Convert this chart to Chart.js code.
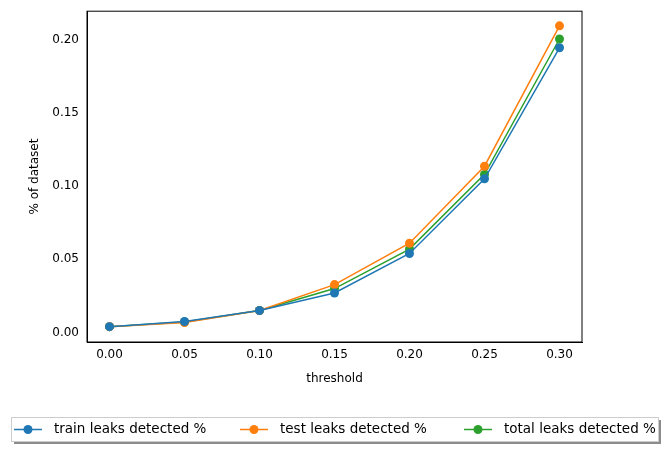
<!DOCTYPE html>
<html><head><meta charset="utf-8">
<script src="https://cdn.jsdelivr.net/npm/chart.js@4"></script>
<style>html,body{margin:0;padding:0;background:#fff}#w{width:667px;height:451px}</style>
</head><body><div id="w"><canvas id="c"></canvas></div>
<script>
const thresholds = [0.00, 0.05, 0.10, 0.15, 0.20, 0.25, 0.30];
const trainLeaks = [0.004, 0.0075, 0.015, 0.027, 0.054, 0.105, 0.1945];
const testLeaks  = [0.004, 0.0068, 0.015, 0.0327, 0.061, 0.1136, 0.2095];
const totalLeaks = [0.004, 0.0072, 0.015, 0.030, 0.057, 0.108, 0.2005];
const seriesLabels = ['train leaks detected %', 'test leaks detected %', 'total leaks detected %'];
const colors = ['#1f77b4', '#ff7f0e', '#2ca02c'];
const font = {family: 'DejaVu Sans', size: 12};

function ds(i, vals){
  return {label: seriesLabels[i], data: thresholds.map((x,k)=>({x, y: vals[k]})),
    borderColor: colors[i], backgroundColor: colors[i], borderWidth: 1.5,
    pointRadius: 4.5, pointHoverRadius: 4.5, pointBorderWidth: 0, tension: 0};
}
const legendPlugin = {
  id: 'mplLegend',
  afterDraw(chart){
    const ctx = chart.ctx;
    const x0 = 11, y0 = 417, w = 647, h = 24;
    ctx.save();
    ctx.fillStyle = 'rgba(0,0,0,0.45)';
    ctx.fillRect(x0+3, y0+3, w, h);
    ctx.fillStyle = '#fff';
    ctx.strokeStyle = '#ccc';
    ctx.lineWidth = 1;
    ctx.fillRect(x0, y0, w, h);
    ctx.strokeRect(x0+0.5, y0+0.5, w, h);
    ctx.font = '13.5px "DejaVu Sans"';
    ctx.textBaseline = 'middle';
    const starts = [14, 240, 464];
    chart.data.datasets.forEach((d, i) => {
      const sx = starts[i], cy = y0 + h/2 + 0.5;
      ctx.strokeStyle = d.borderColor; ctx.lineWidth = 1.5;
      ctx.beginPath(); ctx.moveTo(sx, cy); ctx.lineTo(sx+28, cy); ctx.stroke();
      ctx.fillStyle = d.borderColor;
      ctx.beginPath(); ctx.arc(sx+14, cy, 4.5, 0, Math.PI*2); ctx.fill();
      ctx.fillStyle = '#000';
      ctx.fillText(d.label, sx+40, cy);
    });
    ctx.restore();
  }
};
new Chart(document.getElementById('c'), {
  type: 'line',
  data: {datasets: [ds(0, trainLeaks), ds(1, testLeaks), ds(2, totalLeaks)]},
  options: {
    responsive: true, maintainAspectRatio: false, animation: false,
    layout: {padding: {left: 24, right: 85, top: 10, bottom: 61}},
    plugins: {legend: {display: false}, tooltip: {enabled: false}},
    scales: {
      x: {type: 'linear', min: -0.015, max: 0.315,
        afterFit(s){ s.height = 48; },
        afterBuildTicks(s){ s.ticks = thresholds.map(v=>({value:v})); },
        ticks: {font, color: '#000', callback: v => v.toFixed(2), maxRotation: 0, padding: 2},
        grid: {display: false, drawTicks: true, tickLength: 4, tickColor: '#000'},
        border: {display: true, color: '#000'},
        title: {display: true, text: 'threshold', font, color: '#000', padding: {top: 2}}},
      y: {type: 'linear', min: -0.0065, max: 0.2195,
        afterFit(s){ s.width = 63; },
        afterBuildTicks(s){ s.ticks = [0, 0.05, 0.10, 0.15, 0.20].map(v=>({value:v})); },
        ticks: {font, color: '#000', callback: v => v.toFixed(2), padding: 4},
        grid: {display: false, drawTicks: true, tickLength: 4, tickColor: '#000'},
        border: {display: true, color: '#000'},
        title: {display: true, text: '% of dataset', font, color: '#000', padding: {bottom: 4}}}
    }
  },
  plugins: [legendPlugin, {
    id: 'frame',
    afterDraw(chart){ const {ctx, chartArea: a} = chart; ctx.save(); ctx.strokeStyle='#000'; ctx.lineWidth=1;
      ctx.strokeRect(a.left, a.top, a.right-a.left, a.bottom-a.top); ctx.restore(); }
  }]
});
</script></body></html>
